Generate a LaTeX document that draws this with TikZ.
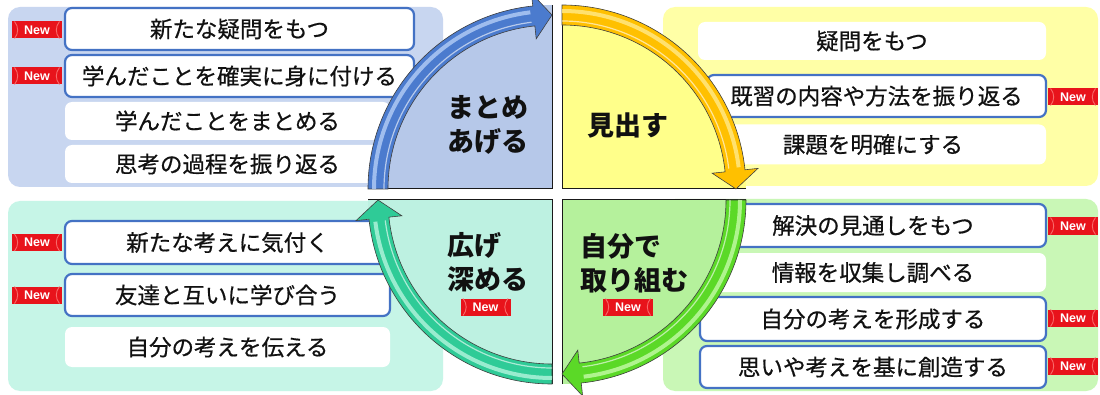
\documentclass[tikz,border=0pt]{standalone}
\usepackage{fontspec}
\newfontfamily\jp{Noto Sans CJK JP}
\newfontfamily\jpm{Noto Sans CJK JP}[FakeBold=0.6]
\newfontfamily\badgefont{Liberation Sans}
\definecolor{boxblue}{HTML}{4472C4}
\definecolor{txt}{HTML}{111111}
\definecolor{badgered}{HTML}{E8131B}
\definecolor{badgelight}{HTML}{F86A6A}
\definecolor{tlpanel}{HTML}{C8D6F0}
\definecolor{tlpie}{HTML}{B6C8E9}
\definecolor{tlarrow}{HTML}{4B7BCE}
\definecolor{tllight}{HTML}{A9C5F2}
\definecolor{trpanel}{HTML}{FFFFA6}
\definecolor{trpie}{HTML}{FFFF8A}
\definecolor{trarrow}{HTML}{FFC000}
\definecolor{trlight}{HTML}{FFE57A}
\definecolor{blpanel}{HTML}{C6F5E7}
\definecolor{blpie}{HTML}{BDF1E1}
\definecolor{blarrow}{HTML}{2FCB97}
\definecolor{bllight}{HTML}{A5F0D6}
\definecolor{brpanel}{HTML}{C9F7B6}
\definecolor{brpie}{HTML}{B5F19C}
\definecolor{brarrow}{HTML}{5BD927}
\definecolor{brlight}{HTML}{B9F79A}
\newcommand{\quadpie}[4]{%
  \begin{scope}[shift={(#1,#2)}]
    \fill[#4] (0,0) -- (#3:184) arc[start angle=#3, end angle=#3-90, radius=184] -- cycle;
    \draw[qline] (#3:184) -- (0,0) -- (#3-90:184);
  \end{scope}}
\newcommand{\quadarrow}[5]{%
  \begin{scope}[shift={(#1,#2)}]
    \pgfmathsetmacro\qaEnd{#3-90}
    \pgfmathsetmacro\qaBase{#3-84}
    \pgfmathsetmacro\qaStop{#3-83}
    \path[fill=#4, draw=black!75, line width=0.6pt] (#3:184) arc[start angle=#3, end angle=\qaBase, radius=184]
      -- (\qaBase:197) -- (\qaEnd:174) -- (\qaBase:151) -- (\qaBase:164)
      arc[start angle=\qaBase, end angle=#3, radius=164] -- cycle;
    \draw[#5, line width=4pt, opacity=0.9] (#3:178) arc[start angle=#3, end angle=\qaStop, radius=178];
    \draw[white, line width=1.2pt, opacity=0.6] (#3:168) arc[start angle=#3, end angle=\qaStop, radius=168];
  \end{scope}}
\begin{document}
\begin{tikzpicture}[x=1pt,y=1pt,
  panel/.style={rounded corners=12pt},
  bbox/.style={draw=boxblue, line width=2.2pt, fill=white, rounded corners=7pt, inner sep=0pt,
    font=\jpm\fontsize{22.5}{26}\selectfont, text=txt},
  wbox/.style={fill=white, rounded corners=7pt, inner sep=0pt,
    font=\jpm\fontsize{22.5}{26}\selectfont, text=txt},
  qline/.style={draw=black!90, line width=1pt},
  qlabel/.style={font=\jp\bfseries\fontsize{27}{34}\selectfont, align=left, text=txt, inner sep=0pt},
  badge/.style={fill=badgered, minimum width=50pt, minimum height=17pt, inner sep=0pt,
    font=\badgefont\bfseries\fontsize{12.5}{14}\selectfont, text=white,
    path picture={
      \draw[badgelight, line width=0.9pt] ([xshift=2.5pt]path picture bounding box.north west) to[bend left=40] ([xshift=2.5pt]path picture bounding box.south west);
      \draw[badgelight, line width=0.9pt] ([xshift=-2.5pt]path picture bounding box.north east) to[bend right=40] ([xshift=-2.5pt]path picture bounding box.south east);
    }},
]
\useasboundingbox (0,0) rectangle (1100,394);
\fill[white] (0,0) rectangle (1100,394);

% panels
\fill[tlpanel, panel] (8,207) rectangle (443,387);
\fill[trpanel, panel] (663,208) rectangle (1098,387);
\fill[blpanel, panel] (8,3) rectangle (443,193);
\fill[brpanel, panel] (663,3) rectangle (1098,195);

% top-left boxes
\node[bbox, minimum width=349pt, minimum height=42pt] (b1) at (239.5,365) {新たな疑問をもつ};
\node[bbox, minimum width=349pt, minimum height=42pt] (b2) at (239.5,318) {学んだことを確実に身に付ける};
\node[wbox, minimum width=325pt, minimum height=38pt] (b3) at (227.5,273) {学んだことをまとめる};
\node[wbox, minimum width=325pt, minimum height=38pt] (b4) at (227.5,230) {思考の過程を振り返る};
\node[badge] (nb1) at (37,364) {New};
\node[badge] (nb2) at (37,318) {New};

% top-right boxes
\node[wbox, minimum width=348pt, minimum height=38pt] (c1) at (872,353) {疑問をもつ};
\node[bbox, minimum width=339pt, minimum height=42pt] (c2) at (876.5,298) {既習の内容や方法を振り返る};
\node[wbox, minimum width=346pt, minimum height=40pt] (c3) at (873,249.5) {課題を明確にする};
\node[badge] (nc2) at (1073,297) {New};

% bottom-left boxes
\node[bbox, minimum width=325pt, minimum height=43pt] (d1) at (227.5,151.5) {新たな考えに気付く};
\node[bbox, minimum width=325pt, minimum height=42pt] (d2) at (227.5,99) {友達と互いに学び合う};
\node[wbox, minimum width=325pt, minimum height=40pt] (d3) at (227.5,47) {自分の考えを伝える};
\node[badge] (nd1) at (37,151.5) {New};
\node[badge] (nd2) at (37,99) {New};

% bottom-right boxes
\node[bbox, minimum width=346pt, minimum height=43pt] (e1) at (873,168.5) {解決の見通しをもつ};
\node[wbox, minimum width=346pt, minimum height=39pt] (e2) at (873,121.5) {情報を収集し調べる};
\node[bbox, minimum width=346pt, minimum height=44pt] (e3) at (873,75) {自分の考えを形成する};
\node[bbox, minimum width=346pt, minimum height=42pt] (e4) at (873,27) {思いや考えを基に創造する};
\node[badge] (ne1) at (1073,168) {New};
\node[badge] (ne3) at (1073,76) {New};
\node[badge] (ne4) at (1073,28) {New};

% quadrant pies
\quadpie{552}{205}{180}{tlpie}
\quadpie{562}{205}{90}{trpie}
\quadpie{562}{194}{0}{brpie}
\quadpie{552}{194}{270}{blpie}

% curved arrows
\quadarrow{552}{205}{180}{tlarrow}{tllight}
\quadarrow{562}{205}{90}{trarrow}{trlight}
\quadarrow{562}{194}{0}{brarrow}{brlight}
\quadarrow{552}{194}{270}{blarrow}{bllight}

% quadrant labels
\node[qlabel] (q1) at (487.5,269) {まとめ\\あげる};
\node[qlabel] (q2) at (627.5,269) {見出す};
\node[qlabel] (q3) at (487.5,131.5) {広げ\\深める};
\node[qlabel] (q4) at (634,131) {自分で\\取り組む};
\node[badge] (nq3) at (485.5,87) {New};
\node[badge] (nq4) at (628,87) {New};
\end{tikzpicture}
\end{document}
